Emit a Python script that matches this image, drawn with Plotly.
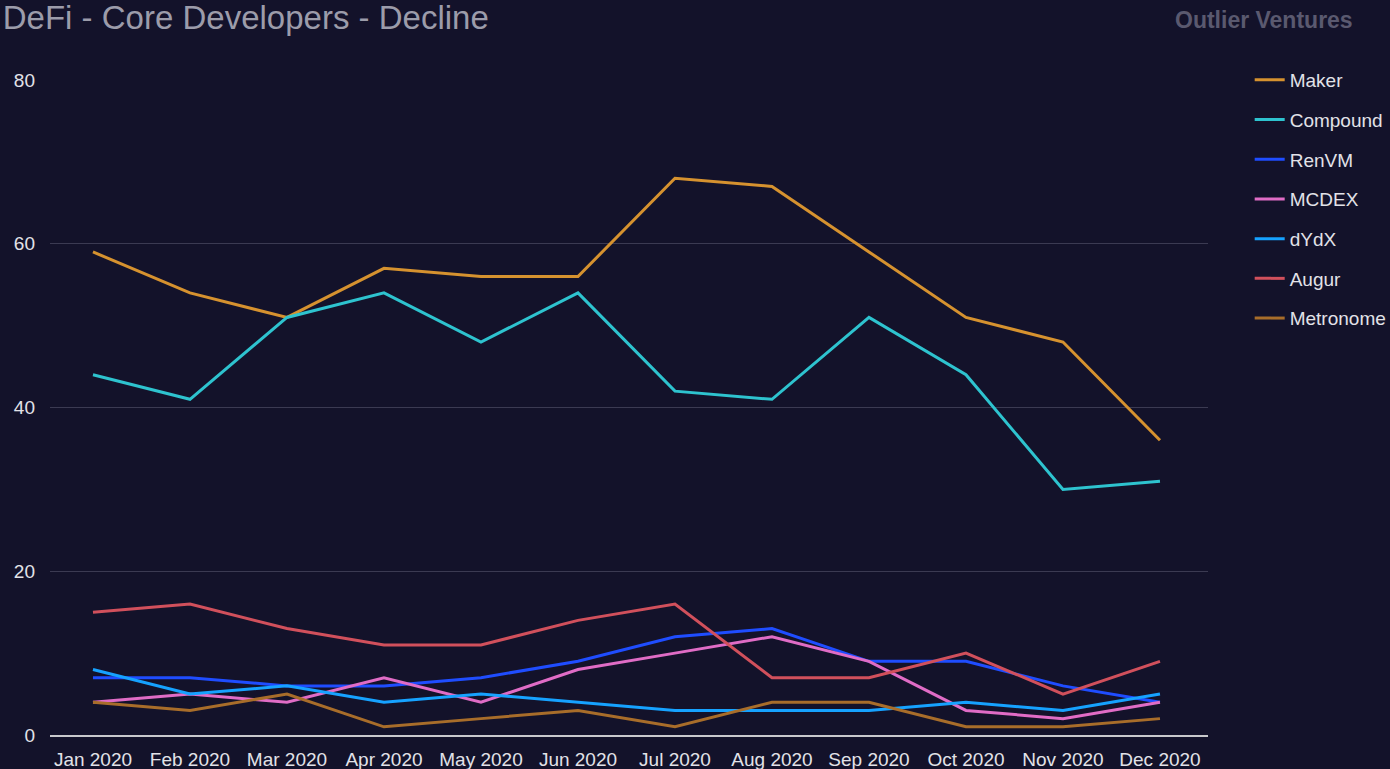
import plotly.graph_objects as go

months = ["Jan 2020", "Feb 2020", "Mar 2020", "Apr 2020", "May 2020", "Jun 2020",
          "Jul 2020", "Aug 2020", "Sep 2020", "Oct 2020", "Nov 2020", "Dec 2020"]

maker = [59, 54, 51, 57, 56, 56, 68, 67, 59, 51, 48, 36]
compound = [44, 41, 51, 54, 48, 54, 42, 41, 51, 44, 30, 31]
renvm = [7, 7, 6, 6, 7, 9, 12, 13, 9, 9, 6, 4]
mcdex = [4, 5, 4, 7, 4, 8, 10, 12, 9, 3, 2, 4]
dydx = [8, 5, 6, 4, 5, 4, 3, 3, 3, 4, 3, 5]
augur = [15, 16, 13, 11, 11, 14, 16, 7, 7, 10, 5, 9]
metronome = [4, 3, 5, 1, 2, 3, 1, 4, 4, 1, 1, 2]

series = [
    ("Maker", maker, "#d6922f"),
    ("Compound", compound, "#2ec3cf"),
    ("RenVM", renvm, "#1f4dff"),
    ("MCDEX", mcdex, "#e06cc6"),
    ("dYdX", dydx, "#16a2ff"),
    ("Augur", augur, "#d1505c"),
    ("Metronome", metronome, "#a86d2a"),
]

bg = "#13122a"

fig = go.Figure()
for i, (name, vals, color) in enumerate(series):
    fig.add_trace(go.Scatter(
        x=months, y=vals, name=name, mode="lines",
        line=dict(color=color, width=3),
        legendgroup=str(i),
    ))

fig.update_layout(
    width=1390,
    height=769,
    paper_bgcolor=bg,
    plot_bgcolor=bg,
    font=dict(family="Liberation Sans, Arial, sans-serif", color="#e2e2e8", size=19),
    margin=dict(l=50, r=182, t=80, b=34, autoexpand=False),
    title=dict(
        text="DeFi - Core Developers - Decline",
        font=dict(size=33, color="#9c9caa"),
        x=0.002, xanchor="left", xref="container",
        y=0.977, yanchor="middle", yref="container",
    ),
    xaxis=dict(
        range=[-0.443, 11.495],
        showgrid=False,
        showline=True,
        linecolor="#c8c8cc",
        linewidth=2,
        ticks="",
        tickfont=dict(size=19, color="#e2e2e8"),
        ticklabelstandoff=6,
    ),
    yaxis=dict(
        range=[0, 80],
        tickvals=[0, 20, 40, 60, 80],
        gridcolor="#3b3a52",
        gridwidth=1,
        zeroline=False,
        showline=False,
        ticks="",
        tickfont=dict(size=19, color="#e2e2e8"),
        ticklabelstandoff=14,
    ),
    legend=dict(
        x=1.036, xanchor="left",
        y=1.029, yanchor="top",
        font=dict(size=19, color="#e2e2e8"),
        tracegroupgap=12,
        itemwidth=30,
        bgcolor="rgba(0,0,0,0)",
    ),
    annotations=[
        dict(
            text="<b>Outlier Ventures</b>",
            xref="paper", yref="paper",
            x=(1264 - 50) / 1158, xanchor="center",
            y=(735 - 20) / 655, yanchor="middle",
            showarrow=False,
            font=dict(size=23, color="#5a596f"),
        ),
    ],
)

fig.write_html(
    "out.html",
    config={"displayModeBar": False},
    post_script="document.body.style.margin='0';document.body.style.background='#13122a';",
)
